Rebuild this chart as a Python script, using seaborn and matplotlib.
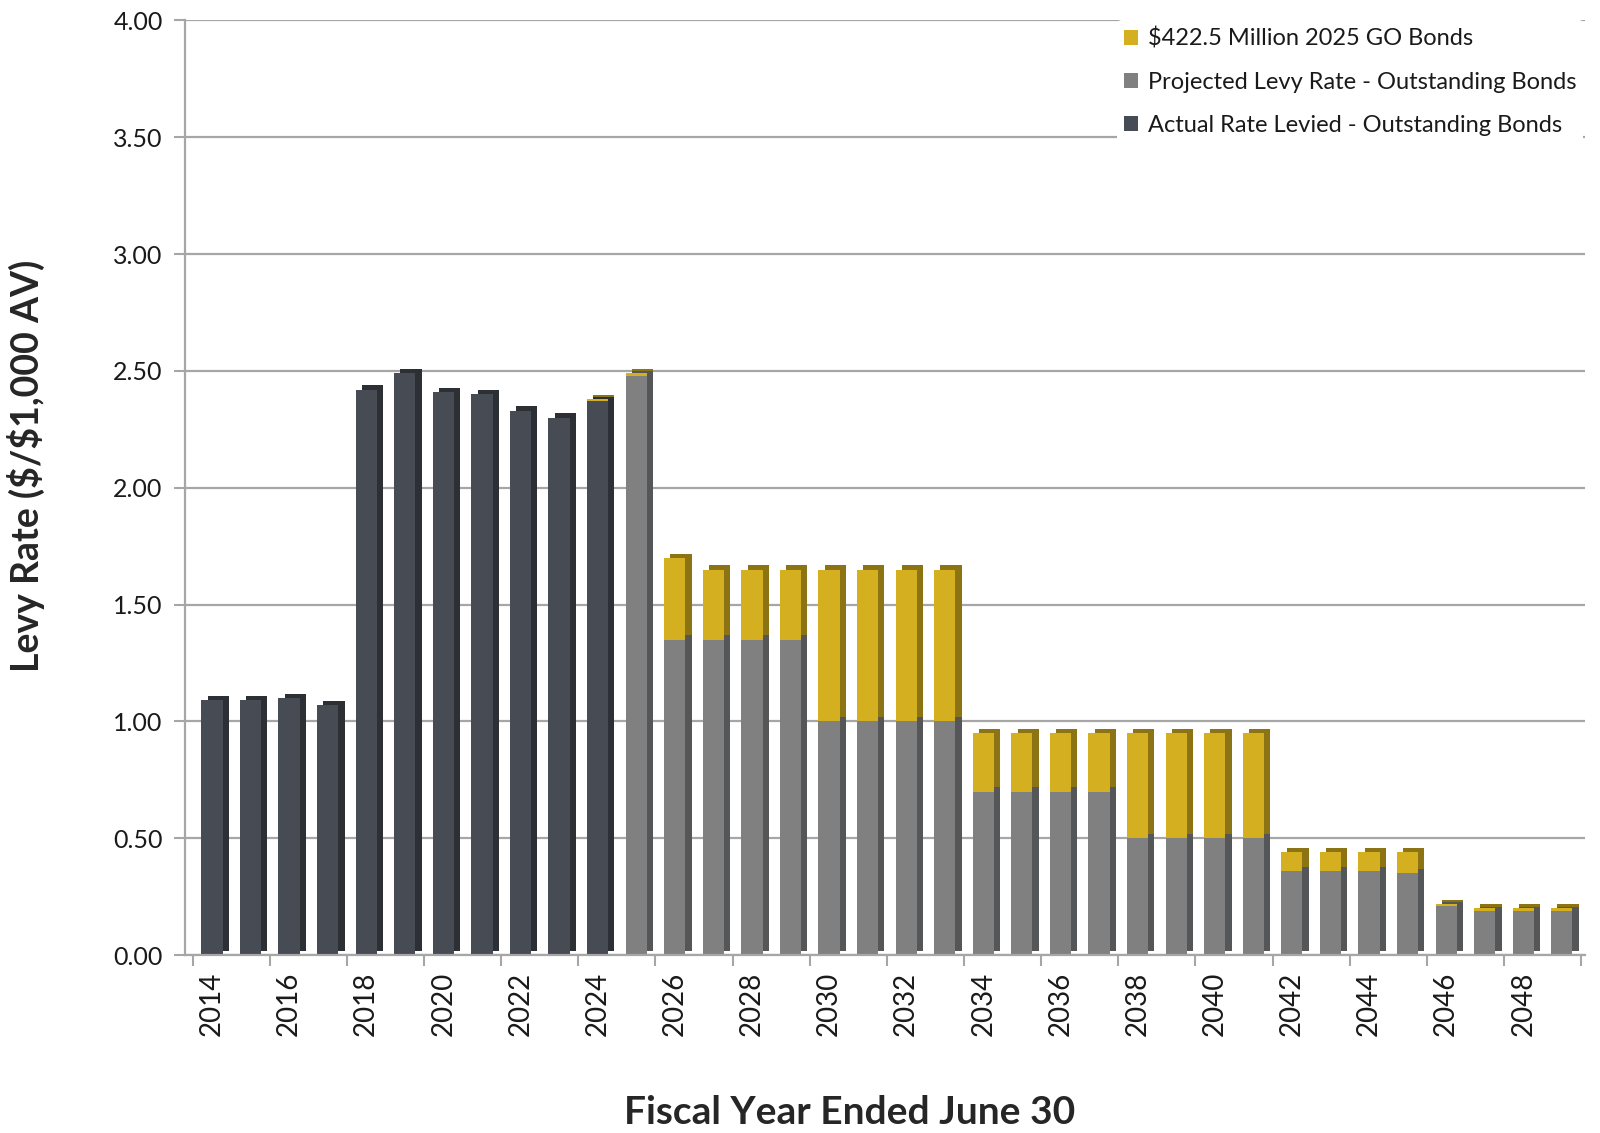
import matplotlib
matplotlib.use("Agg")
import matplotlib.pyplot as plt
import matplotlib.patheffects as pe
from matplotlib.patches import Patch
import pandas as pd
import seaborn as sns

# Fiscal years and levy rates ($ per $1,000 assessed value)
years = list(range(2014, 2050))
actual_levied = [1.09, 1.09, 1.10, 1.07, 2.42, 2.49, 2.41, 2.40, 2.33, 2.30, 2.37] + [0.0] * 25
projected_outstanding = [0.0] * 11 + [
    2.48,
    1.35, 1.35, 1.35, 1.35,
    1.00, 1.00, 1.00, 1.00,
    0.70, 0.70, 0.70, 0.70,
    0.50, 0.50, 0.50, 0.50,
    0.36, 0.36, 0.36, 0.35,
    0.21, 0.19, 0.19, 0.19,
]
go_bonds_2025 = [0.0] * 10 + [
    0.01, 0.01,
    0.35, 0.30, 0.30, 0.30,
    0.65, 0.65, 0.65, 0.65,
    0.25, 0.25, 0.25, 0.25,
    0.45, 0.45, 0.45, 0.45,
    0.08, 0.08, 0.08, 0.09,
    0.01, 0.01, 0.01, 0.01,
]
series_labels = [
    "\\$422.5 Million 2025 GO Bonds",
    "Projected Levy Rate - Outstanding Bonds",
    "Actual Rate Levied - Outstanding Bonds",
]
y_ticks = [0.0, 0.5, 1.0, 1.5, 2.0, 2.5, 3.0, 3.5, 4.0]

# face colour, side (depth) colour
DARK = ("#474b53", "#2c2f34")
GRAY = ("#808080", "#555657")
GOLD = ("#d4b021", "#8c7415")

df = pd.DataFrame({
    "year": [str(y) for y in years],
    "actual": actual_levied,
    "projected": projected_outstanding,
    "go": go_bonds_2025,
})
df["base"] = df["actual"] + df["projected"]

sns.set_theme(style="white")
plt.rcParams["font.family"] = ["Lato", "DejaVu Sans"]
plt.rcParams["text.color"] = "#1a1a1a"

fig = plt.figure(figsize=(16, 11.33), dpi=100)
ax = fig.add_axes([0.1156, 0.157, 0.875, 0.825])

order = df["year"].tolist()


def layer(col, colors, bottom=None):
    n0 = len(ax.patches)
    kw = {} if bottom is None else {"bottom": bottom}
    sns.barplot(data=df, x="year", y=col, order=order, color=colors[0],
                saturation=1, width=0.55, errorbar=None, linewidth=0,
                ax=ax, **kw)
    for p in ax.patches[n0:]:
        p.set_path_effects([
            pe.SimplePatchShadow(offset=(4.5, 3), shadow_rgbFace=colors[1], alpha=1.0),
            pe.Normal(),
        ])


layer("actual", DARK)
layer("projected", GRAY)
layer("go", GOLD, bottom=df["base"].to_numpy())

ax.set_xlim(-0.7, 35.6)
ax.set_ylim(0, 4.0)
ax.set_yticks(y_ticks)
ax.set_yticklabels([f"{v:.2f}" for v in y_ticks], fontsize=18, color="#1a1a1a")
ax.set_xticks(range(0, len(years), 2))
ax.set_xticklabels([str(y) for y in years[::2]], rotation=90, fontsize=20, color="#1a1a1a")
ax.set_xticks([i - 0.5 for i in range(0, len(years) + 1, 2)], minor=True)
ax.tick_params(axis="x", which="major", length=0, pad=12)
ax.tick_params(axis="x", which="minor", length=8, width=1.5, color="#a6a6a6", direction="out", bottom=True)
ax.tick_params(axis="y", length=8, width=1.5, color="#a6a6a6", direction="out", left=True, pad=8)

ax.set_axisbelow(True)
ax.yaxis.grid(True, color="#a6a6a6", linewidth=1.6)
ax.xaxis.grid(False)
for side in ("top", "right"):
    ax.spines[side].set_visible(False)
for side in ("left", "bottom"):
    ax.spines[side].set_color("#a6a6a6")
    ax.spines[side].set_linewidth(1.6)

ax.set_ylabel("Levy Rate (\\$/\\$1,000 AV)", fontsize=27, fontweight="bold")
ax.yaxis.set_label_coords(-0.100, 0.523)
ax.set_xlabel("Fiscal Year Ended June 30", fontsize=28, fontweight="bold")
ax.xaxis.set_label_coords(0.475, -0.150)

handles = [
    Patch(facecolor=GOLD[0], edgecolor="none"),
    Patch(facecolor=GRAY[0], edgecolor="none"),
    Patch(facecolor=DARK[0], edgecolor="none"),
]
leg = ax.legend(handles, series_labels, loc="upper right",
                bbox_to_anchor=(0.997, 0.9925), bbox_transform=fig.transFigure,
                fontsize=17, frameon=True, handlelength=0.6, handleheight=0.6,
                handletextpad=0.4, labelspacing=0.95, borderpad=0.3)
leg.get_frame().set_facecolor("white")
leg.get_frame().set_edgecolor("none")
leg.get_frame().set_alpha(1.0)

fig.savefig("out.png", dpi=100, facecolor="white")
